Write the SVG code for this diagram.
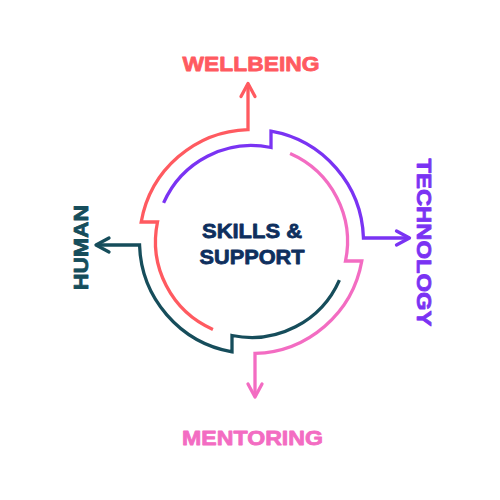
<svg xmlns="http://www.w3.org/2000/svg" width="500" height="500" viewBox="0 0 500 500">
<style>
.ln{fill:none;stroke-width:3.3;stroke-linejoin:miter;stroke-linecap:butt}
.hd{fill:none;stroke-width:3.3;stroke-linejoin:round;stroke-linecap:round}
.lbl{font-family:"Liberation Sans",Arial,sans-serif;font-weight:bold;font-size:21px;text-anchor:middle;stroke-width:0.8;stroke-linejoin:round}
</style>
<rect width="500" height="500" fill="#ffffff"/>
<g id="connectors">
  <g id="wellbeing-arc" stroke="#ff5a60">
    <path class="ln" d="M248,84 L248,129.55 A112 112 0 0 0 141.21,222 L157.5,222 A96 96 0 0 0 212.92,329.41"/>
    <path class="hd" d="M241,96.5 L248,83.5 L255,96.5"/>
  </g>
  <g id="technology-arc" stroke="#7a33f3">
    <path class="ln" d="M409,238 L363.45,238 A112 112 0 0 0 271,131.21 L271,147.5 A96 96 0 0 0 163.59,202.92"/>
    <path class="hd" d="M396.5,231 L409.5,238 L396.5,245"/>
  </g>
  <g id="mentoring-arc" stroke="#f36cc2">
    <path class="ln" d="M255,396.5 L255,353.45 A112 112 0 0 0 361.79,261 L345.5,261 A96 96 0 0 0 290.08,153.59"/>
    <path class="hd" d="M248,384 L255,397 L262,384"/>
  </g>
  <g id="human-arc" stroke="#164d5b">
    <path class="ln" d="M96.5,245 L139.55,245 A112 112 0 0 0 232,351.79 L232,335.5 A96 96 0 0 0 339.41,280.08"/>
    <path class="hd" d="M109,238 L96,245 L109,252"/>
  </g>
</g>
<g id="center">
  <text class="lbl" x="252" y="238" fill="#0e2f5e" stroke="#0e2f5e" textLength="100" lengthAdjust="spacingAndGlyphs">SKILLS &amp;</text>
  <text class="lbl" x="252" y="263.5" fill="#0e2f5e" stroke="#0e2f5e" textLength="105" lengthAdjust="spacingAndGlyphs">SUPPORT</text>
</g>
<g id="wellbeing">
  <text class="lbl" x="251" y="71" fill="#ff5a60" stroke="#ff5a60" textLength="137" lengthAdjust="spacingAndGlyphs">WELLBEING</text>
</g>
<g id="mentoring">
  <text class="lbl" x="252.5" y="445" fill="#f36cc2" stroke="#f36cc2" textLength="141" lengthAdjust="spacingAndGlyphs">MENTORING</text>
</g>
<g id="human">
  <text class="lbl" transform="translate(88,247.5) rotate(-90)" x="0" y="0" fill="#164d5b" stroke="#164d5b" textLength="85" lengthAdjust="spacingAndGlyphs">HUMAN</text>
</g>
<g id="technology">
  <text class="lbl" transform="translate(416.5,242.5) rotate(90)" x="0" y="0" fill="#7a33f3" stroke="#7a33f3" textLength="168" lengthAdjust="spacingAndGlyphs">TECHNOLOGY</text>
</g>
</svg>
